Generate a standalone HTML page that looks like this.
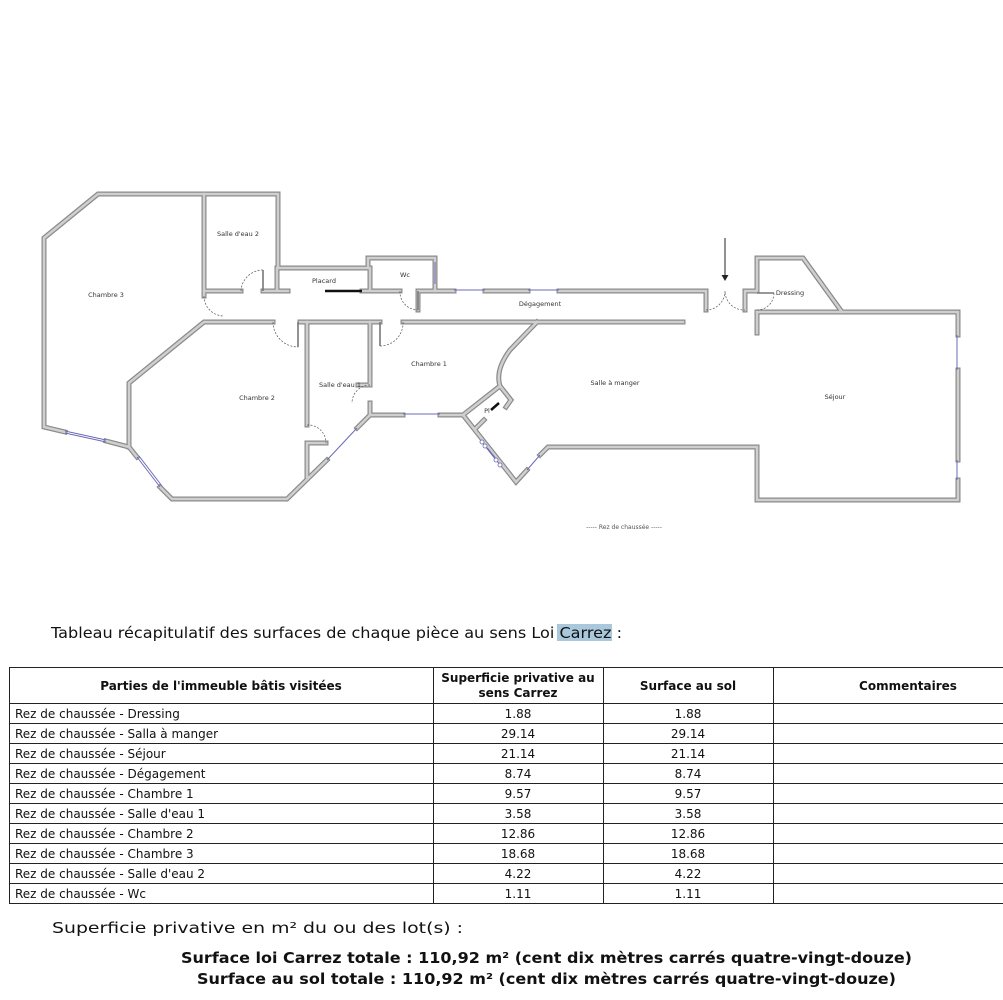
<!DOCTYPE html>
<html><head><meta charset="utf-8"><style>
html,body{margin:0;padding:0;background:#fff;}
svg{display:block;}
.w{fill:none;stroke:#8a8a8a;stroke-width:5;stroke-linejoin:miter;stroke-linecap:square}
.wi{fill:none;stroke:#cfcfcf;stroke-width:2.6;stroke-linejoin:miter;stroke-linecap:square}
.win{stroke:#6a6ab8;stroke-width:1;fill:none}
.door{fill:none;stroke:#555;stroke-width:0.7;stroke-dasharray:2 1.5}
.leaf{stroke:#777;stroke-width:1.6}
.lbl{font-family:"DejaVu Sans",sans-serif;font-size:6.5px;fill:#333}
.t{font-family:"DejaVu Sans","Liberation Sans",sans-serif;font-size:12px;fill:#111}
.th{font-family:"DejaVu Sans","Liberation Sans",sans-serif;font-size:12px;font-weight:bold;fill:#111}
</style></head><body>
<svg width="1003" height="1000" viewBox="0 0 1003 1000" xmlns="http://www.w3.org/2000/svg">
<defs>
<g id="walls">
<path d="M65,432 L44,427 L44,238 L98,194 L278,194 L278,268 L368,268 L368,258 L435,258 L435,291 L454,291"/>
<path d="M106,441 L129,447 L137,457"/>
<path d="M160,487 L172,499 L287,499 L327,460"/>
<path d="M357,428 L370,415 L403,415"/>
<path d="M440,415 L463,415 L516,482 L527,470"/>
<path d="M540,455 L548,447 L757,447 L757,500 L958,500 L958,480"/>
<path d="M958,460 L958,370"/>
<path d="M958,335 L958,312 L842,312 L803,258 L757,258 L757,291 L745,291 L745,310"/>
<path d="M706,310 L706,291 L559,291"/>
<path d="M528,291 L485,291"/>
<path d="M204,296 L204,194"/>
<path d="M204,291 L241,291"/>
<path d="M263,291 L288,291 M277,291 L277,268"/>
<path d="M362,291 L400,291 M370,291 L370,268"/>
<path d="M418,310 L418,291 L435,291"/>
<path d="M273,322 L204,322 L129,383 L129,447"/>
<path d="M300,322 L380,322"/>
<path d="M403,322 L683,322"/>
<path d="M307,322 L307,425 M307,443 L326,443 M307,443 L307,477"/>
<path d="M370,322 L370,385 L358,385"/>
<path d="M370,403 L370,415"/>
<path d="M537,322 L510,350 Q495,370 500,386 L463,415"/>
<path d="M500,386 L511,400 L506,407"/>
<path d="M484,420 L476,428"/>
<path d="M757,312 L842,312"/>
<path d="M757,312 L757,333"/>
</g>
</defs>
<use href="#walls" class="w"/>
<use href="#walls" class="wi"/>
<g class="win">
<line x1="65" y1="431" x2="106" y2="440"/><line x1="65" y1="433" x2="106" y2="442"/>
<line x1="137" y1="457" x2="160" y2="487"/><line x1="139" y1="456" x2="162" y2="486"/>
<line x1="327" y1="460" x2="357" y2="428"/>
<line x1="403" y1="414" x2="440" y2="414"/>
<line x1="527" y1="470" x2="540" y2="455"/>
<line x1="454" y1="290" x2="485" y2="290"/><line x1="528" y1="290" x2="559" y2="290"/>
<line x1="435" y1="262" x2="435" y2="284"/>
<line x1="957" y1="335" x2="957" y2="370"/><line x1="957" y1="460" x2="957" y2="480"/>
</g>
<g fill="#fff" stroke="#6a6ab8" stroke-width="0.8">
<circle cx="482" cy="442" r="2"/><circle cx="485" cy="446" r="2"/><circle cx="496" cy="460" r="2"/><circle cx="500" cy="465" r="2"/>
</g>
<line x1="487" y1="448" x2="495" y2="458" stroke="#6a6ab8" stroke-width="1.5"/>
<line x1="325" y1="291" x2="362" y2="291" stroke="#111" stroke-width="2.5"/>
<line x1="491" y1="410" x2="499" y2="403" stroke="#111" stroke-width="2.5"/>
<g class="door">
<path d="M263,270 A22,22 0 0 0 241,291"/>
<path d="M204,296 A20,20 0 0 0 224,316"/>
<path d="M273,322 A25,25 0 0 0 298,347"/>
<path d="M403,322 A23,23 0 0 1 380,346"/>
<path d="M400,291 A18,18 0 0 0 418,310"/>
<path d="M370,385 A18,18 0 0 0 352,403"/>
<path d="M307,425 A18,18 0 0 1 326,443"/>
<path d="M706,310 A19,19 0 0 0 725,291 A19,19 0 0 0 745,310"/>
<path d="M757,310 A17,17 0 0 0 774,293"/>
</g>
<g class="leaf">
<line x1="263" y1="270" x2="263" y2="291"/><line x1="298" y1="322" x2="298" y2="347"/>
<line x1="380" y1="322" x2="380" y2="346"/><line x1="418" y1="291" x2="418" y2="310"/>
<line x1="757" y1="293" x2="774" y2="293"/>
</g>
<line x1="725" y1="238" x2="725" y2="276" stroke="#222" stroke-width="1"/>
<path d="M721.5,275 L728.5,275 L725,281 Z" fill="#222"/>
<text class="lbl" x="238" y="236" text-anchor="middle">Salle d'eau 2</text>
<text class="lbl" x="106" y="297" text-anchor="middle">Chambre 3</text>
<text class="lbl" x="324" y="283" text-anchor="middle">Placard</text>
<text class="lbl" x="405" y="277" text-anchor="middle">Wc</text>
<text class="lbl" x="540" y="306" text-anchor="middle">Dégagement</text>
<text class="lbl" x="790" y="295" text-anchor="middle">Dressing</text>
<text class="lbl" x="429" y="366" text-anchor="middle">Chambre 1</text>
<text class="lbl" x="615" y="385" text-anchor="middle">Salle à manger</text>
<text class="lbl" x="835" y="399" text-anchor="middle">Séjour</text>
<text class="lbl" x="340" y="387" text-anchor="middle">Salle d'eau 1</text>
<text class="lbl" x="257" y="400" text-anchor="middle">Chambre 2</text>
<text class="lbl" x="487" y="413" text-anchor="middle">Pl</text>
<text x="624" y="529" text-anchor="middle" style="font-family:'DejaVu Sans',sans-serif;font-size:6px;fill:#555">----- Rez de chaussée -----</text>
<rect x="557" y="624" width="55" height="17" fill="#a9c8dc"/>
<text x="51" y="638" textLength="571" lengthAdjust="spacingAndGlyphs" style="font-family:'DejaVu Sans',sans-serif;font-size:15px;fill:#111">Tableau récapitulatif des surfaces de chaque pièce au sens Loi Carrez :</text>
<g stroke="#222" stroke-width="1" fill="none">
<rect x="9.5" y="667.5" width="1000" height="236"/>
<line x1="9" y1="703.5" x2="1003" y2="703.5"/>
<line x1="9" y1="723.5" x2="1003" y2="723.5"/><line x1="9" y1="743.5" x2="1003" y2="743.5"/>
<line x1="9" y1="763.5" x2="1003" y2="763.5"/><line x1="9" y1="783.5" x2="1003" y2="783.5"/>
<line x1="9" y1="803.5" x2="1003" y2="803.5"/><line x1="9" y1="823.5" x2="1003" y2="823.5"/>
<line x1="9" y1="843.5" x2="1003" y2="843.5"/><line x1="9" y1="863.5" x2="1003" y2="863.5"/>
<line x1="9" y1="883.5" x2="1003" y2="883.5"/>
<line x1="433.5" y1="667" x2="433.5" y2="904"/><line x1="603.5" y1="667" x2="603.5" y2="904"/>
<line x1="773.5" y1="667" x2="773.5" y2="904"/>
</g>
<text class="th" x="221" y="690" text-anchor="middle">Parties de l'immeuble bâtis visitées</text>
<text class="th" x="518" y="682" text-anchor="middle">Superficie privative au</text>
<text class="th" x="518" y="697" text-anchor="middle">sens Carrez</text>
<text class="th" x="688" y="690" text-anchor="middle">Surface au sol</text>
<text class="th" x="908" y="690" text-anchor="middle">Commentaires</text>
<g class="t">
<text x="15" y="718">Rez de chaussée - Dressing</text><text x="518" y="718" text-anchor="middle">1.88</text><text x="688" y="718" text-anchor="middle">1.88</text>
<text x="15" y="738">Rez de chaussée - Salla à manger</text><text x="518" y="738" text-anchor="middle">29.14</text><text x="688" y="738" text-anchor="middle">29.14</text>
<text x="15" y="758">Rez de chaussée - Séjour</text><text x="518" y="758" text-anchor="middle">21.14</text><text x="688" y="758" text-anchor="middle">21.14</text>
<text x="15" y="778">Rez de chaussée - Dégagement</text><text x="518" y="778" text-anchor="middle">8.74</text><text x="688" y="778" text-anchor="middle">8.74</text>
<text x="15" y="798">Rez de chaussée - Chambre 1</text><text x="518" y="798" text-anchor="middle">9.57</text><text x="688" y="798" text-anchor="middle">9.57</text>
<text x="15" y="818">Rez de chaussée - Salle d'eau 1</text><text x="518" y="818" text-anchor="middle">3.58</text><text x="688" y="818" text-anchor="middle">3.58</text>
<text x="15" y="838">Rez de chaussée - Chambre 2</text><text x="518" y="838" text-anchor="middle">12.86</text><text x="688" y="838" text-anchor="middle">12.86</text>
<text x="15" y="858">Rez de chaussée - Chambre 3</text><text x="518" y="858" text-anchor="middle">18.68</text><text x="688" y="858" text-anchor="middle">18.68</text>
<text x="15" y="878">Rez de chaussée - Salle d'eau 2</text><text x="518" y="878" text-anchor="middle">4.22</text><text x="688" y="878" text-anchor="middle">4.22</text>
<text x="15" y="898">Rez de chaussée - Wc</text><text x="518" y="898" text-anchor="middle">1.11</text><text x="688" y="898" text-anchor="middle">1.11</text>
</g>
<text x="52" y="933" textLength="411" lengthAdjust="spacingAndGlyphs" style="font-family:'DejaVu Sans',sans-serif;font-size:15px;fill:#111">Superficie privative en m² du ou des lot(s) :</text>
<text x="181" y="963" textLength="731" lengthAdjust="spacingAndGlyphs" style="font-family:'DejaVu Sans',sans-serif;font-size:15px;font-weight:bold;fill:#111">Surface loi Carrez totale : 110,92 m² (cent dix mètres carrés quatre-vingt-douze)</text>
<text x="197" y="984" textLength="699" lengthAdjust="spacingAndGlyphs" style="font-family:'DejaVu Sans',sans-serif;font-size:15px;font-weight:bold;fill:#111">Surface au sol totale : 110,92 m² (cent dix mètres carrés quatre-vingt-douze)</text>
</svg>
</body></html>
